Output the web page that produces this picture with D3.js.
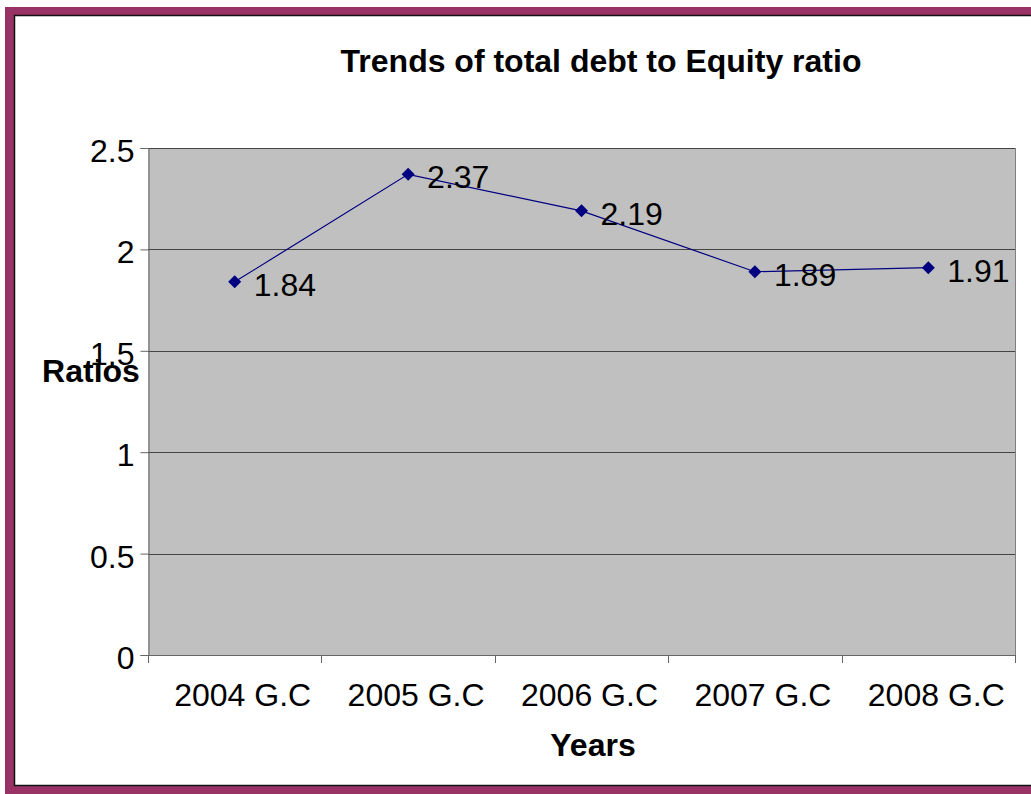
<!DOCTYPE html>
<html>
<head>
<meta charset="utf-8">
<script src="https://cdn.jsdelivr.net/npm/d3@7"></script>
<style>
  html, body { margin: 0; padding: 0; background: #fff; }
  svg { display: block; }
</style>
</head>
<body>
<svg id="chart" width="1031" height="794"></svg>
<script>
// Debt-to-equity ratios by year
const categories = ["2004 G.C", "2005 G.C", "2006 G.C", "2007 G.C", "2008 G.C"];
const ratios = [1.84, 2.37, 2.19, 1.89, 1.91];
const yTicks = [0, 0.5, 1, 1.5, 2, 2.5];

const svg = d3.select("#chart");
const W = 1031, H = 794;
const font = "Liberation Sans, Arial, sans-serif";
const fs = 32;

// Outer frame: maroon band with a thin dark inner edge
svg.append("rect").attr("x", 0).attr("y", 0).attr("width", W).attr("height", H).attr("fill", "#fff");
svg.append("rect").attr("x", 5).attr("y", 7).attr("width", W - 5).attr("height", 8).attr("fill", "#993366");
svg.append("rect").attr("x", 5).attr("y", 786).attr("width", W - 5).attr("height", 8).attr("fill", "#993366");
svg.append("rect").attr("x", 5).attr("y", 7).attr("width", 10).attr("height", 787).attr("fill", "#993366");
svg.append("path")
  .attr("d", `M${W},15.5 H14.5 V785.5 H${W}`)
  .attr("fill", "none").attr("stroke", "#111").attr("stroke-width", 1.5);

const plot = { left: 148, top: 148, right: 1015, bottom: 655 };

const x = d3.scaleBand().domain(categories).range([plot.left, plot.right]).padding(0);
const y = d3.scaleLinear().domain([0, 2.5]).range([plot.bottom, plot.top]);

// Plot background
svg.append("rect")
  .attr("x", plot.left).attr("y", plot.top)
  .attr("width", plot.right - plot.left).attr("height", plot.bottom - plot.top)
  .attr("fill", "#c0c0c0");

// Horizontal gridlines
svg.append("g").selectAll("line").data(yTicks.filter(d => d > 0)).join("line")
  .attr("x1", plot.left).attr("x2", plot.right)
  .attr("y1", d => Math.round(y(d)) + 0.5).attr("y2", d => Math.round(y(d)) + 0.5)
  .attr("stroke", "#444").attr("stroke-width", 1);

// Right edge of plot area
svg.append("line")
  .attr("x1", plot.right + 0.5).attr("x2", plot.right + 0.5)
  .attr("y1", plot.top).attr("y2", plot.bottom)
  .attr("stroke", "#808080").attr("stroke-width", 1);

// Y axis
const yAxis = svg.append("g")
  .attr("transform", `translate(${plot.left + 0.5},0)`)
  .call(d3.axisLeft(y).tickValues(yTicks).tickSize(8).tickPadding(6).tickFormat(d => String(d)));
yAxis.select(".domain").attr("stroke", "#666");
yAxis.selectAll(".tick line").attr("stroke", "#666");
yAxis.selectAll("text").attr("font-family", font).attr("font-size", fs).attr("fill", "#000").attr("dy", "0.42em");

// X axis with ticks at category boundaries
const boundaries = categories.map(c => x(c)).concat([plot.right]);
svg.append("line")
  .attr("x1", plot.left).attr("x2", plot.right)
  .attr("y1", plot.bottom + 0.5).attr("y2", plot.bottom + 0.5)
  .attr("stroke", "#666");
svg.append("g").selectAll("line").data(boundaries).join("line")
  .attr("x1", d => Math.round(d) + 0.5).attr("x2", d => Math.round(d) + 0.5)
  .attr("y1", plot.bottom).attr("y2", plot.bottom + 8)
  .attr("stroke", "#666");
svg.append("g").selectAll("text").data(categories).join("text")
  .attr("x", d => x(d) + x.bandwidth() / 2 + 8)
  .attr("y", 706)
  .attr("text-anchor", "middle")
  .attr("font-family", font).attr("font-size", fs).attr("fill", "#000")
  .text(d => d);

// Series line
const cx = (d, i) => x(categories[i]) + x.bandwidth() / 2;
const line = d3.line().x((d, i) => cx(d, i)).y(d => y(d));
svg.append("path")
  .datum(ratios)
  .attr("d", line)
  .attr("fill", "none").attr("stroke", "#000080").attr("stroke-width", 1.2);

// Diamond markers
svg.append("g").selectAll("path").data(ratios).join("path")
  .attr("transform", (d, i) => `translate(${cx(d, i)},${y(d)})`)
  .attr("d", "M0,-6.5 L6.5,0 L0,6.5 L-6.5,0 Z")
  .attr("fill", "#000080");

// Value labels
svg.append("g").selectAll("text").data(ratios).join("text")
  .attr("x", (d, i) => cx(d, i) + 19)
  .attr("y", d => y(d) + 14)
  .attr("font-family", font).attr("font-size", fs).attr("fill", "#000")
  .text(d => d.toFixed(2));

// Title and axis titles
svg.append("text")
  .attr("x", 601).attr("y", 72)
  .attr("text-anchor", "middle")
  .attr("font-family", font).attr("font-size", fs).attr("font-weight", "bold")
  .text("Trends of total debt to Equity ratio");

svg.append("text")
  .attr("x", 593).attr("y", 756)
  .attr("text-anchor", "middle")
  .attr("font-family", font).attr("font-size", fs).attr("font-weight", "bold")
  .text("Years");

svg.append("text")
  .attr("x", 91).attr("y", 382)
  .attr("text-anchor", "middle")
  .attr("font-family", font).attr("font-size", fs).attr("font-weight", "bold")
  .text("Ratios");
</script>
</body>
</html>
